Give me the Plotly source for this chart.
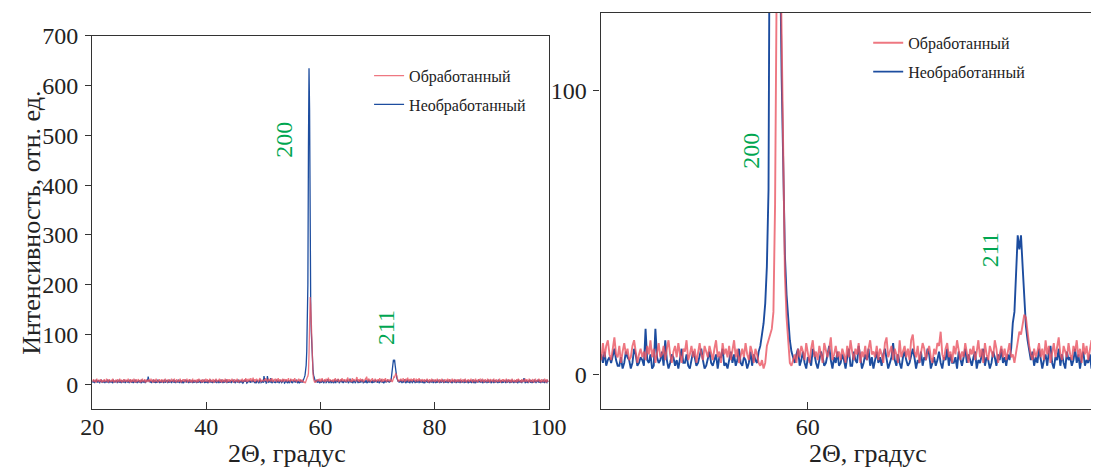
import numpy as np
import plotly.graph_objects as go

# 2Theta scan: start and step (degrees)
THETA_START = 20.0
THETA_STEP = 0.1

# Необработанный (untreated), intensity per step, 20.0 ... 100.0
untreated = [
    6, 3, 8, 5, 2, 7, 4, 9, 5, 3, 6, 8, 4, 2, 7, 5, 9, 3, 6, 4,
    5, 8, 2, 6, 4, 7, 3, 9, 5, 2, 8, 4, 6, 3, 7, 5, 2, 9, 4, 6,
    3, 7, 5, 8, 2, 6, 4, 9, 3, 5, 7, 2, 8, 4, 6, 3, 9, 5, 2, 7,
    4, 8, 3, 6, 5, 2, 9, 4, 7, 3, 5, 8, 2, 6, 4, 9, 3, 7, 5, 2,
    6, 4, 8, 3, 7, 5, 2, 9, 4, 6, 3, 8, 5, 2, 7, 4, 9, 6, 15, 7,
    4, 8, 3, 6, 2, 7, 5, 9, 3, 4, 8, 2, 6, 5, 3, 9, 4, 7, 2, 6,
    5, 3, 8, 4, 7, 2, 6, 9, 3, 5, 4, 8, 2, 7, 5, 3, 9, 4, 6, 2,
    7, 4, 9, 3, 5, 8, 2, 6, 4, 7, 3, 9, 5, 2, 6, 8, 4, 3, 7, 5,
    2, 6, 4, 9, 5, 3, 8, 4, 7, 2, 5, 9, 3, 6, 4, 8, 2, 7, 5, 3,
    8, 4, 6, 2, 7, 5, 3, 9, 4, 6, 2, 8, 5, 3, 7, 4, 9, 2, 6, 5,
    3, 7, 5, 2, 8, 4, 6, 9, 3, 5, 7, 2, 6, 4, 8, 3, 5, 9, 2, 6,
    4, 8, 2, 6, 5, 3, 9, 4, 7, 2, 6, 8, 3, 5, 4, 9, 2, 7, 5, 3,
    6, 3, 8, 5, 2, 7, 4, 9, 3, 6, 5, 2, 8, 4, 7, 3, 9, 5, 2, 6,
    5, 4, 7, 6, 2, 3, 8, 5, 5, 9, 4, 2, 3, 6, 7, 4, 8, 3, 5, 6,
    4, 7, 9, 5, 3, 3, 6, 2, 4, 8, 6, 5, 2, 4, 9, 7, 3, 4, 6, 5,
    3, 16, 5, 4, 7, 2, 3, 16, 6, 4, 5, 8, 3, 12, 5, 2, 4, 7, 6, 3,
    5, 2, 6, 9, 4, 4, 7, 3, 2, 5, 8, 6, 3, 4, 7, 9, 5, 2, 3, 6,
    8, 4, 3, 5, 7, 2, 6, 6, 9, 3, 4, 2, 5, 8, 4, 7, 3, 5, 9, 4,
    3, 6, 5, 2, 4, 8, 3, 7, 5, 4, 8, 10, 14, 18, 25, 38, 65, 120, 200, 475,
    635, 550, 260, 150, 105, 70, 42, 28, 18, 12, 8, 6, 4, 7, 9, 3, 5, 8, 4, 2,
    6, 5, 3, 9, 7, 4, 2, 5, 8, 6, 3, 4, 7, 10, 5, 2, 6, 4, 8, 3,
    4, 7, 5, 2, 6, 9, 3, 3, 8, 5, 4, 10, 6, 2, 4, 7, 5, 9, 3, 6,
    2, 5, 8, 4, 6, 3, 7, 9, 5, 2, 4, 6, 11, 5, 3, 7, 4, 2, 6, 8,
    5, 3, 4, 7, 9, 6, 2, 5, 4, 8, 3, 6, 5, 9, 7, 2, 4, 6, 3, 5,
    8, 4, 2, 6, 5, 9, 3, 7, 4, 4, 6, 2, 8, 5, 3, 6, 9, 4, 7, 5,
    3, 6, 8, 2, 5, 4, 7, 9, 3, 6, 5, 2, 4, 8, 6, 3, 7, 5, 9, 4,
    6, 3, 7, 5, 9, 18, 22, 34, 49, 44, 49, 38, 26, 17, 12, 9, 5, 8, 3, 6,
    4, 9, 6, 2, 5, 7, 3, 8, 10, 4, 2, 6, 5, 9, 3, 7, 4, 2, 8, 5,
    6, 3, 5, 9, 4, 7, 2, 6, 8, 3, 5, 4, 7, 2, 9, 6, 3, 5, 8, 4,
    3, 7, 5, 2, 8, 4, 6, 9, 3, 5, 7, 2, 6, 4, 8, 3, 5, 9, 2, 6,
    4, 8, 2, 6, 5, 3, 9, 4, 7, 2, 6, 8, 3, 5, 4, 9, 2, 7, 5, 3,
    6, 3, 8, 5, 2, 7, 4, 9, 3, 6, 5, 2, 8, 4, 7, 3, 9, 5, 2, 6,
    5, 7, 3, 9, 4, 2, 6, 8, 3, 5, 4, 7, 2, 9, 5, 3, 6, 4, 8, 2,
    4, 7, 3, 8, 5, 2, 6, 9, 4, 3, 7, 5, 2, 8, 4, 6, 3, 9, 5, 4,
    7, 3, 5, 9, 4, 2, 6, 8, 3, 5, 4, 7, 2, 6, 9, 3, 5, 4, 8, 2,
    3, 6, 4, 9, 2, 5, 8, 3, 7, 4, 6, 2, 9, 5, 3, 7, 4, 8, 2, 6,
    5, 3, 8, 4, 7, 2, 6, 9, 3, 5, 4, 8, 2, 7, 5, 3, 9, 4, 6, 2,
    6, 4, 8, 3, 7, 5, 2, 9, 4, 6, 3, 8, 5, 2, 7, 4, 9, 12, 5, 3,
    4, 8, 3, 6, 2, 7, 5, 9, 3, 4, 8, 2, 6, 5, 3, 9, 4, 7, 2, 6,
    7, 4, 9, 3, 5, 8, 2, 6, 4, 7, 3, 9, 5, 2, 6, 8, 4, 3, 7, 5,
    5,
]

# Обработанный (treated), intensity per step, 20.0 ... 100.0
treated = [
    8, 5, 10, 6, 4, 9, 7, 3, 11, 6, 8, 5, 9, 4, 7, 10, 6, 3, 8, 5,
    7, 10, 4, 8, 6, 11, 5, 9, 3, 7, 10, 6, 8, 4, 9, 5, 11, 7, 3, 8,
    5, 9, 7, 3, 10, 6, 8, 4, 11, 7, 5, 9, 3, 8, 6, 10, 4, 7, 9, 5,
    9, 4, 7, 11, 5, 8, 3, 10, 6, 4, 9, 7, 5, 11, 8, 3, 6, 10, 4, 7,
    6, 10, 5, 8, 3, 9, 7, 4, 11, 6, 8, 5, 10, 3, 7, 9, 4, 8, 6, 10,
    4, 8, 6, 11, 5, 9, 3, 7, 10, 6, 4, 8, 11, 5, 7, 3, 9, 6, 10, 4,
    8, 5, 10, 3, 7, 9, 6, 4, 11, 8, 5, 7, 3, 10, 6, 9, 4, 8, 5, 11,
    6, 9, 4, 8, 11, 5, 7, 3, 10, 6, 8, 4, 9, 5, 11, 7, 3, 8, 6, 10,
    5, 10, 7, 4, 9, 6, 11, 3, 8, 5, 10, 6, 4, 9, 7, 3, 11, 6, 8, 4,
    9, 5, 8, 3, 10, 7, 4, 11, 6, 9, 5, 8, 3, 10, 6, 4, 9, 7, 5, 11,
    7, 4, 10, 6, 8, 3, 11, 5, 9, 7, 4, 8, 10, 5, 3, 9, 6, 11, 4, 8,
    5, 9, 6, 11, 4, 8, 7, 3, 10, 5, 9, 6, 4, 11, 7, 8, 3, 10, 6, 5,
    10, 6, 4, 9, 7, 11, 5, 8, 3, 10, 6, 9, 4, 7, 11, 5, 8, 3, 9, 6,
    9, 6, 7, 11, 4, 8, 6, 10, 5, 12, 7, 4, 9, 8, 5, 11, 6, 10, 12, 7,
    5, 9, 13, 7, 6, 10, 4, 8, 11, 7, 9, 5, 6, 10, 12, 8, 4, 7, 9, 6,
    8, 5, 10, 7, 12, 6, 9, 4, 8, 11, 6, 7, 10, 5, 9, 12, 7, 4, 8, 10,
    6, 11, 7, 4, 9, 8, 12, 5, 7, 10, 6, 9, 4, 8, 11, 7, 5, 10, 8, 6,
    10, 7, 5, 9, 12, 6, 8, 4, 11, 7, 9, 6, 10, 5, 8, 12, 6, 9, 4, 7,
    9, 6, 11, 7, 5, 10, 8, 4, 9, 7, 4, 3, 5, 2, 4, 10, 12, 14, 16, 22,
    60, 140, 175, 160, 120, 65, 35, 20, 10, 4, 3, 5, 7, 4, 9, 6, 10, 8, 5, 11,
    7, 4, 9, 12, 6, 8, 5, 10, 7, 4, 11, 8, 6, 9, 13, 5, 7, 10, 6, 8,
    5, 9, 7, 4, 10, 6, 12, 8, 5, 9, 7, 11, 4, 8, 6, 10, 5, 9, 12, 7,
    8, 6, 10, 5, 9, 7, 4, 11, 13, 6, 8, 10, 5, 9, 7, 4, 12, 6, 8, 10,
    6, 9, 5, 12, 14, 8, 6, 10, 4, 7, 11, 9, 5, 8, 10, 6, 4, 9, 7, 11,
    10, 15, 7, 5, 9, 11, 6, 8, 4, 10, 7, 12, 9, 5, 8, 6, 11, 7, 4, 9,
    7, 10, 5, 8, 12, 6, 9, 4, 11, 7, 5, 10, 8, 6, 12, 9, 4, 7, 10, 6,
    9, 5, 8, 11, 6, 7, 4, 8, 12, 15, 14, 18, 21, 20, 14, 10, 7, 5, 9, 6,
    8, 11, 6, 9, 5, 12, 7, 10, 4, 8, 11, 6, 9, 13, 7, 5, 10, 8, 6, 11,
    7, 5, 10, 8, 12, 6, 9, 4, 11, 7, 10, 5, 8, 12, 6, 9, 7, 4, 10, 8,
    8, 5, 10, 6, 4, 9, 7, 11, 5, 8, 3, 10, 6, 9, 4, 11, 7, 5, 8, 6,
    6, 10, 4, 9, 7, 11, 5, 8, 3, 10, 6, 9, 4, 11, 7, 5, 8, 3, 10, 6,
    9, 5, 8, 11, 4, 7, 10, 6, 3, 9, 5, 11, 7, 4, 8, 10, 6, 3, 9, 7,
    5, 10, 6, 4, 9, 7, 11, 3, 8, 6, 10, 4, 9, 5, 11, 7, 3, 8, 6, 10,
    7, 4, 9, 6, 11, 5, 8, 3, 10, 6, 9, 4, 11, 7, 5, 8, 3, 10, 6, 9,
    10, 6, 4, 8, 11, 5, 9, 3, 7, 10, 6, 8, 4, 11, 5, 9, 7, 3, 10, 6,
    6, 9, 4, 8, 11, 5, 7, 3, 10, 6, 8, 4, 9, 5, 11, 7, 3, 8, 6, 10,
    5, 10, 7, 4, 9, 6, 11, 3, 8, 5, 10, 6, 4, 9, 7, 3, 11, 6, 8, 4,
    9, 5, 8, 3, 10, 7, 4, 11, 6, 9, 5, 8, 3, 10, 6, 4, 9, 7, 5, 11,
    7, 4, 10, 6, 8, 3, 11, 5, 9, 7, 4, 8, 10, 5, 3, 9, 6, 11, 4, 8,
    5, 9, 6, 11, 4, 8, 7, 3, 10, 5, 9, 6, 4, 11, 7, 8, 3, 10, 6, 5,
    7,
]

series_names = ["Необработанный", "Обработанный"]
peak_labels = ["200", "211"]
peak_theta_left = [53.7, 71.6]
peak_y_left = [492, 114]
peak_theta_right = [56.56, 71.16]
peak_y_right = [79, 44]

theta_u = THETA_START + THETA_STEP * np.arange(len(untreated))
theta_t = THETA_START + THETA_STEP * np.arange(len(treated))

BLUE = "#1d4d9f"
RED = "#ea5562"
GREEN = "#00a651"
AX = "#333333"
FONT = "Liberation Serif"

W, H = 1109, 467
MT, MB = 10, 58
PH = H - MT - MB


def px_x(p):
    return p / W


def px_y(p):
    return (H - MB - p) / PH


fig = go.Figure()

# left panel
fig.add_trace(go.Scatter(x=theta_u, y=untreated, mode="lines", name=series_names[0],
                         line=dict(color=BLUE, width=1.3), xaxis="x", yaxis="y",
                         legend="legend", legendgroup="u", legendrank=2))
fig.add_trace(go.Scatter(x=theta_t, y=treated, mode="lines", name=series_names[1],
                         line=dict(color=RED, width=1.3), opacity=0.8, xaxis="x", yaxis="y",
                         legend="legend", legendgroup="t", legendrank=1))
# right panel (zoom)
fig.add_trace(go.Scatter(x=theta_u, y=untreated, mode="lines", name=series_names[0],
                         line=dict(color=BLUE, width=1.9), xaxis="x2", yaxis="y2",
                         legend="legend2", legendgroup="u2", legendrank=2))
fig.add_trace(go.Scatter(x=theta_t, y=treated, mode="lines", name=series_names[1],
                         line=dict(color=RED, width=1.9), opacity=0.8, xaxis="x2", yaxis="y2",
                         legend="legend2", legendgroup="t2", legendrank=1))

axis_common = dict(showline=True, linecolor=AX, linewidth=1.4, showgrid=False, zeroline=False,
                   tickcolor=AX, tickwidth=1.4, tickfont=dict(family=FONT, size=24, color="#222"))

legend_common = dict(font=dict(family=FONT, size=16, color="#222"), bgcolor="rgba(0,0,0,0)",
                     traceorder="grouped", tracegroupgap=5,
                     xanchor="left", yanchor="top")

fig.update_layout(
    width=W, height=H, autosize=False,
    margin=dict(l=0, r=0, t=MT, b=MB),
    paper_bgcolor="white", plot_bgcolor="white",
    showlegend=True,
    xaxis=dict(domain=[px_x(82.5), px_x(551.5)], range=[20, 100], tick0=0, dtick=20,
               ticks="inside", ticklen=7, mirror=True, anchor="y", ticklabelstandoff=-4,
               **axis_common),
    yaxis=dict(domain=[0, px_y(33)], range=[-50, 700], tick0=0, dtick=100,
               ticks="outside", ticklen=6, mirror=True, anchor="x", ticklabelstandoff=2,
               **axis_common),
    xaxis2=dict(domain=[px_x(605), 1.0], range=[47.36, 77.27], tick0=0, dtick=20,
                ticks="inside", ticklen=7, mirror=True, anchor="y2", ticklabelstandoff=-4,
                **axis_common),
    yaxis2=dict(domain=[0, 1], range=[-12.25, 127.4], tick0=0, dtick=100,
                ticks="outside", ticklen=6, mirror=False, anchor="x2", ticklabelstandoff=2,
                **axis_common),
    legend=dict(x=px_x(367), y=px_y(56), **legend_common),
    legend2=dict(x=px_x(880), y=px_y(23), **legend_common),
)

annotations = []
for lab, tx, ty in zip(peak_labels, peak_theta_left, peak_y_left):
    annotations.append(dict(x=tx, y=ty, xref="x", yref="y", text=lab, showarrow=False,
                            textangle=-90, font=dict(family=FONT, size=24, color=GREEN)))
for lab, tx, ty in zip(peak_labels, peak_theta_right, peak_y_right):
    annotations.append(dict(x=tx, y=ty, xref="x2", yref="y2", text=lab, showarrow=False,
                            textangle=-90, font=dict(family=FONT, size=24, color=GREEN)))
# axis titles
title_font = dict(family=FONT, size=26, color="#222")
annotations.append(dict(x=px_x(283), y=px_y(454), xref="paper", yref="paper",
                        text="2Θ, градус", showarrow=False, font=title_font,
                        xanchor="center", yanchor="middle"))
annotations.append(dict(x=px_x(880), y=px_y(454), xref="paper", yref="paper",
                        text="2Θ, градус", showarrow=False, font=title_font,
                        xanchor="center", yanchor="middle"))
annotations.append(dict(x=px_x(20), y=px_y(221), xref="paper", yref="paper",
                        text="Интенсивность, отн. ед.", showarrow=False, font=title_font,
                        textangle=-90, xanchor="center", yanchor="middle"))
fig.update_layout(annotations=annotations)

fig.write_html(
    "out.html",
    config={"displayModeBar": False, "responsive": False},
    post_script=(
        "document.body.style.margin='0';document.body.style.padding='0';"
        "document.body.style.overflow='hidden';"
        "var gd=document.getElementById('{plot_id}');"
        "gd.style.position='absolute';gd.style.left='0px';gd.style.top='0px';"
        "Plotly.relayout(gd,{width:1109,height:467});"
    ),
)
